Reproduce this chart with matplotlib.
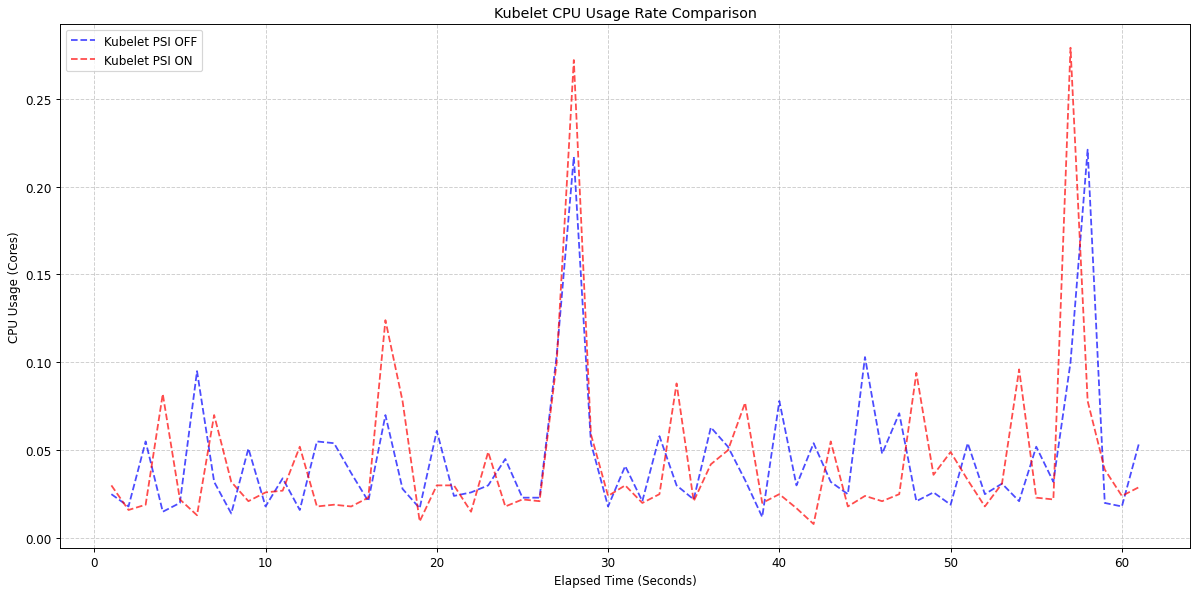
import matplotlib; matplotlib.use("Agg")
import matplotlib.pyplot as plt
import numpy as np

# elapsed seconds 1..61
seconds = np.arange(1, 62)
psi_off = [0.025, 0.018, 0.055, 0.015, 0.020, 0.095, 0.032, 0.014, 0.051, 0.018,
           0.034, 0.016, 0.055, 0.054, 0.037, 0.021, 0.070, 0.028, 0.017, 0.061,
           0.024, 0.026, 0.030, 0.045, 0.023, 0.023, 0.104, 0.217, 0.054, 0.018,
           0.041, 0.021, 0.058, 0.030, 0.022, 0.063, 0.052, 0.033, 0.012, 0.078,
           0.030, 0.054, 0.032, 0.025, 0.103, 0.048, 0.071, 0.021, 0.026, 0.019,
           0.054, 0.025, 0.031, 0.021, 0.052, 0.032, 0.100, 0.221, 0.020, 0.018,
           0.054]
psi_on = [0.030, 0.016, 0.019, 0.082, 0.022, 0.013, 0.070, 0.032, 0.021, 0.026,
          0.027, 0.052, 0.018, 0.019, 0.018, 0.023, 0.124, 0.078, 0.0095, 0.030,
          0.030, 0.015, 0.049, 0.018, 0.022, 0.021, 0.100, 0.272, 0.059, 0.024,
          0.030, 0.020, 0.025, 0.088, 0.021, 0.042, 0.050, 0.077, 0.020, 0.025,
          0.017, 0.008, 0.055, 0.018, 0.024, 0.021, 0.025, 0.094, 0.036, 0.049,
          0.033, 0.018, 0.031, 0.096, 0.023, 0.022, 0.279, 0.078, 0.039, 0.024,
          0.029]

DPI = 1200 / 14
fig, ax = plt.subplots(figsize=(14, 6.93), dpi=DPI)
ax.plot(seconds, psi_off, ls="--", lw=1.5, color="blue", alpha=0.7, label="Kubelet PSI OFF")
ax.plot(seconds, psi_on, ls="--", lw=1.5, color="red", alpha=0.7, label="Kubelet PSI ON")
ax.set_title("Kubelet CPU Usage Rate Comparison")
ax.set_xlabel("Elapsed Time (Seconds)")
ax.set_ylabel("CPU Usage (Cores)")
ax.grid(True, ls="--", alpha=0.6)
ax.legend(loc="upper left")
fig.subplots_adjust(left=0.05, right=0.992, top=0.958, bottom=0.076)
fig.savefig("out.png", dpi=DPI)
